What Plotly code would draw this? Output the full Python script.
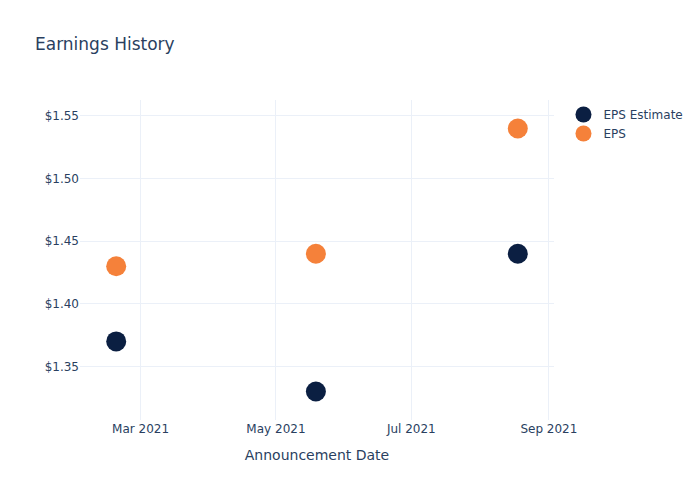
import plotly.graph_objects as go

dates = ["2021-02-18", "2021-05-19", "2021-08-18"]
eps_estimate = [1.37, 1.33, 1.44]
eps_actual = [1.43, 1.44, 1.54]

fig = go.Figure()
fig.add_trace(go.Scatter(x=dates, y=eps_estimate, mode="markers", name="EPS Estimate",
                         marker=dict(color="#0b1f42", size=20)))
fig.add_trace(go.Scatter(x=dates, y=eps_actual, mode="markers", name="EPS",
                         marker=dict(color="#f5813a", size=20)))
fig.update_layout(
    template="plotly_white",
    width=700, height=500,
    font=dict(family="DejaVu Sans"),
    title=dict(text="Earnings History"),
    xaxis=dict(title=dict(text="Announcement Date"), dtick="M2", tick0="2021-01-01"),
    yaxis=dict(tickprefix="$", tickformat=".2f"),
)
fig.write_html("out.html")
